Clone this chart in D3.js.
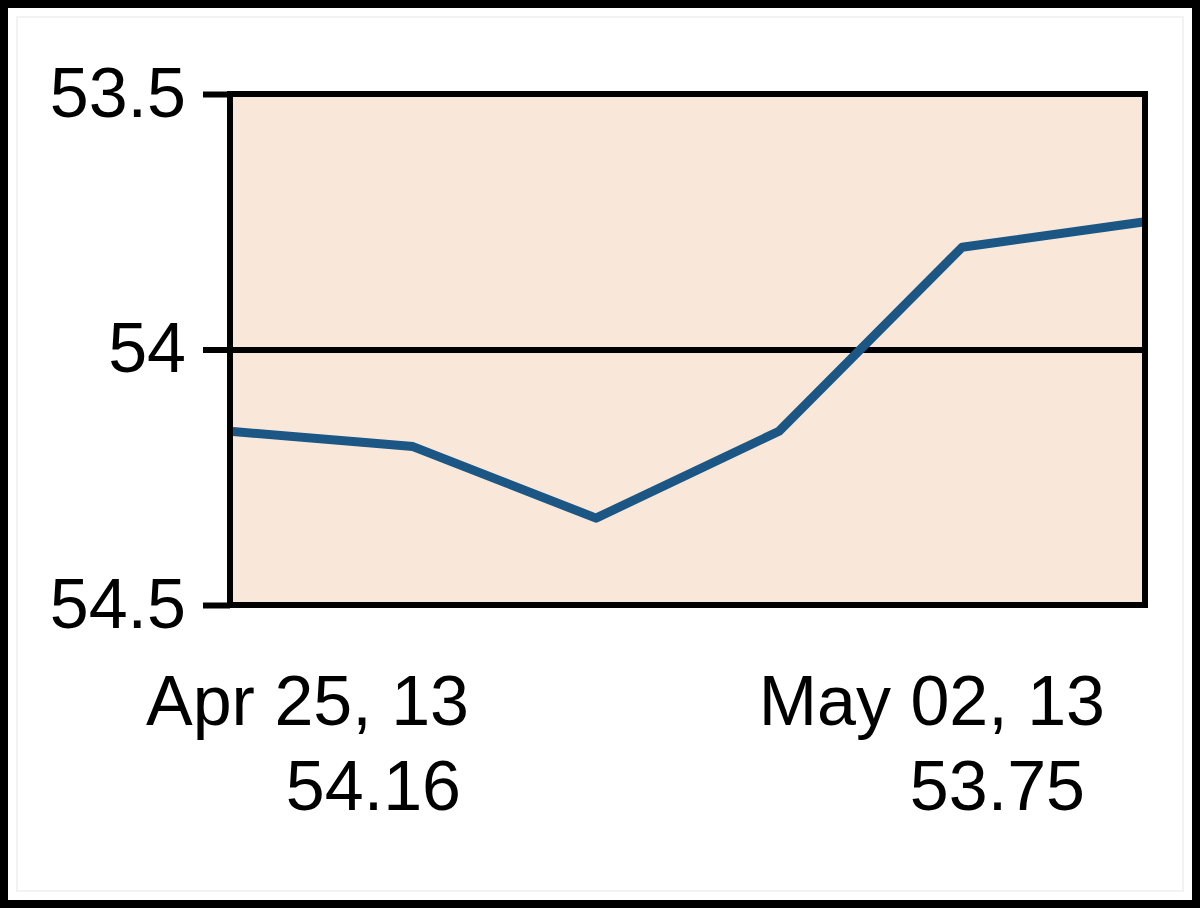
<!DOCTYPE html>
<html>
<head>
<meta charset="utf-8">
<script src="https://cdn.jsdelivr.net/npm/d3@7"></script>
<style>
  html, body { margin: 0; padding: 0; background: #fff; }
  svg { display: block; }
  text { font-family: "Liberation Sans", Arial, sans-serif; fill: #000; }
</style>
</head>
<body>
<svg id="chart" width="1200" height="908"></svg>
<script>
// ---- data ----
const dates = ["Apr 25, 13", "Apr 26, 13", "Apr 29, 13", "Apr 30, 13", "May 01, 13", "May 02, 13"];
const values = [54.16, 54.19, 54.33, 54.16, 53.80, 53.75];
const yTicks = [53.5, 54, 54.5];
const yTickLabels = ["53.5", "54", "54.5"];
const gridValues = [54];
const xLabelDates = ["Apr 25, 13", "May 02, 13"];
const xLabelValues = ["54.16", "53.75"];

// ---- layout ----
const W = 1200, H = 908;
const plot = { left: 230, right: 1145, top: 94, bottom: 605 };
const fontSize = 70;
const labelDateEnd = [469, 1105];
const labelValueEnd = [461, 1085];
const labelDateBaseline = 725;
const labelValueBaseline = 810;

const svg = d3.select("#chart");

// outer frame
svg.append("rect").attr("x", 4).attr("y", 4).attr("width", W - 8).attr("height", H - 8)
  .attr("fill", "#fff").attr("stroke", "#000").attr("stroke-width", 8);
svg.append("rect").attr("x", 17).attr("y", 17).attr("width", W - 34).attr("height", H - 34)
  .attr("fill", "none").attr("stroke", "#f2f2f2").attr("stroke-width", 2);

const x = d3.scalePoint().domain(dates).range([plot.left, plot.right]);
const y = d3.scaleLinear().domain([53.5, 54.5]).range([plot.top, plot.bottom]);

// plot background
svg.append("rect")
  .attr("x", plot.left).attr("y", plot.top)
  .attr("width", plot.right - plot.left).attr("height", plot.bottom - plot.top)
  .attr("fill", "#F9E8D9");

// grid line at 54 (extends through tick)
const grid = svg.append("g").attr("transform", `translate(${plot.right},0)`)
  .call(d3.axisLeft(y).tickValues(gridValues).tickSize(plot.right - plot.left + 27).tickFormat(""));
grid.select(".domain").remove();
grid.selectAll(".tick line").attr("stroke", "#000").attr("stroke-width", 6);

// line
const line = d3.line().x((d, i) => x(dates[i])).y(d => y(d));
svg.append("path").datum(values)
  .attr("d", line)
  .attr("fill", "none")
  .attr("stroke", "#1B5684")
  .attr("stroke-width", 9)
  .attr("stroke-linejoin", "round");

// plot border
svg.append("rect")
  .attr("x", plot.left).attr("y", plot.top)
  .attr("width", plot.right - plot.left).attr("height", plot.bottom - plot.top)
  .attr("fill", "none").attr("stroke", "#000").attr("stroke-width", 6);

// y axis
const yAxis = svg.append("g").attr("transform", `translate(${plot.left},0)`)
  .call(d3.axisLeft(y).tickValues(yTicks).tickSize(27).tickSizeOuter(0).tickPadding(17)
    .tickFormat((d, i) => yTickLabels[i]));
yAxis.select(".domain").remove();
yAxis.selectAll(".tick line").attr("stroke", "#000").attr("stroke-width", 6);
yAxis.selectAll(".tick text")
  .style("font-family", '"Liberation Sans", Arial, sans-serif')
  .attr("font-size", fontSize).attr("fill", "#000");

// x labels (first and last)
const xl = svg.append("g");
xLabelDates.forEach((t, i) => {
  xl.append("text").attr("x", labelDateEnd[i]).attr("y", labelDateBaseline)
    .attr("text-anchor", "end").attr("font-size", fontSize).text(t);
  xl.append("text").attr("x", labelValueEnd[i]).attr("y", labelValueBaseline)
    .attr("text-anchor", "end").attr("font-size", fontSize).text(xLabelValues[i]);
});
</script>
</body>
</html>
